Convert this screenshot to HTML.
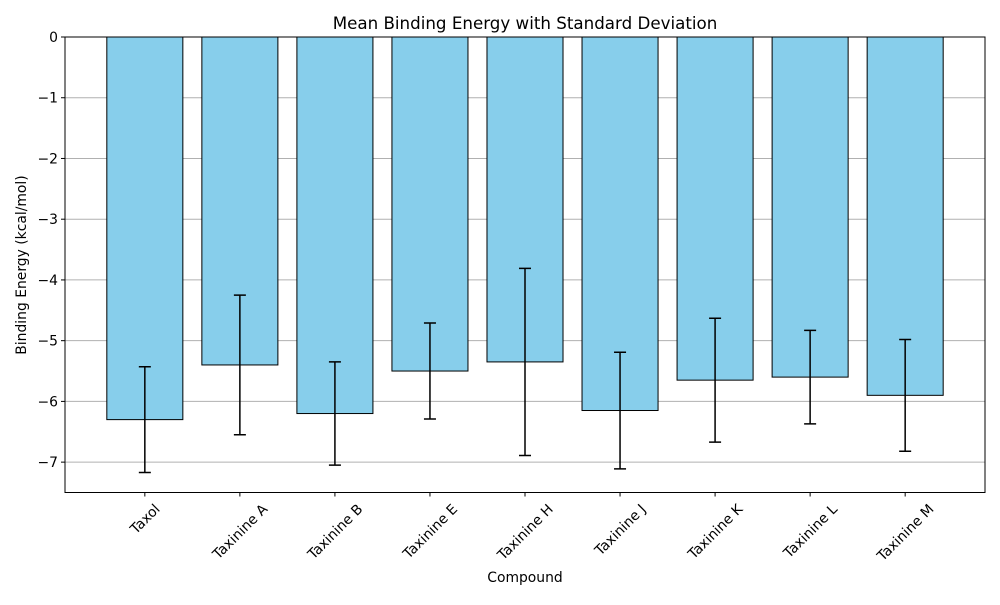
<!DOCTYPE html>
<html><head><meta charset="utf-8"><style>
body{margin:0;background:#fff;font-family:"Liberation Sans","DejaVu Sans",sans-serif}
</style></head><body>
<svg id="chart" width="1000" height="600" xmlns="http://www.w3.org/2000/svg" font-family="DejaVu Sans, Liberation Sans, sans-serif">
<rect width="1000" height="600" fill="#fff"/>
<text x="525" y="29" text-anchor="middle" font-size="16.7">Mean Binding Energy with Standard Deviation</text>
<text x="525" y="582" text-anchor="middle" font-size="13.9">Compound</text>
<text transform="translate(26,265) rotate(-90)" text-anchor="middle" font-size="13.9">Binding Energy (kcal/mol)</text>
<g id="grid"></g><g id="bars"></g><g id="errs"></g><g id="ticks"></g>
<rect x="65" y="37" width="920" height="455.5" fill="none" stroke="#000" stroke-width="1"/>
</svg>
<script>
const categories=["Taxol","Taxinine A","Taxinine B","Taxinine E","Taxinine H","Taxinine J","Taxinine K","Taxinine L","Taxinine M"];
const means=[-6.3,-5.4,-6.2,-5.5,-5.35,-6.15,-5.65,-5.6,-5.9];
const stds=[0.87,1.15,0.85,0.79,1.54,0.96,1.02,0.77,0.92];
const yTicks=[0,-1,-2,-3,-4,-5,-6,-7];
const NS="http://www.w3.org/2000/svg";
const L=65,R=985,T=37,B=492.5;
const xmin=-0.84,xmax=categories.length-1+0.84,ymin=-7.5,ymax=0;
const X=i=>L+(i-xmin)/(xmax-xmin)*(R-L);
const Y=v=>T+(ymax-v)/(ymax-ymin)*(B-T);
const bw=0.8*(R-L)/(xmax-xmin);
function mk(tag,attrs,parent){const e=document.createElementNS(NS,tag);for(const k in attrs)e.setAttribute(k,attrs[k]);document.getElementById(parent).appendChild(e);return e;}
yTicks.forEach(t=>{
 const g=mk("line",{x1:L,x2:R,y1:Y(t),y2:Y(t),stroke:"#b0b0b0","stroke-width":1},"grid");
 
 
 const tk=mk("line",{x1:L-4,x2:L,y1:Y(t),y2:Y(t),stroke:"#000"},"ticks");
 
 
 const tx=mk("text",{x:L-7,y:Y(t)+5,"text-anchor":"end","font-size":13.9},"ticks");
 tx.textContent=t===0?"0":"\u2212"+Math.abs(t);
 
 
});
categories.forEach((c,i)=>{
 const cx=X(i);
 const b=mk("rect",{x:cx-bw/2,y:Y(0),width:bw,height:Y(means[i])-Y(0),fill:"#87ceeb",stroke:"#000","stroke-width":1},"bars");
 
 
 const y1=Y(means[i]+stds[i]),y2=Y(means[i]-stds[i]);
 const e=mk("path",{d:`M${cx},${y1}V${y2}M${cx-6},${y1}H${cx+6}M${cx-6},${y2}H${cx+6}`,stroke:"#000","stroke-width":1.5,fill:"none"},"errs");
 
 
 const tk=mk("line",{x1:cx,x2:cx,y1:B,y2:B+4,stroke:"#000"},"ticks");
 
 
 const tx=mk("text",{"text-anchor":"middle","font-size":13.9},"ticks");
 tx.textContent=c;
 
 
 const w=tx.getComputedTextLength();
 const h=(w+11)*0.7071;
 tx.setAttribute("transform",`translate(${cx},${B+10+h/2}) rotate(-45) translate(0,5)`);
});
</script>
</body></html>
